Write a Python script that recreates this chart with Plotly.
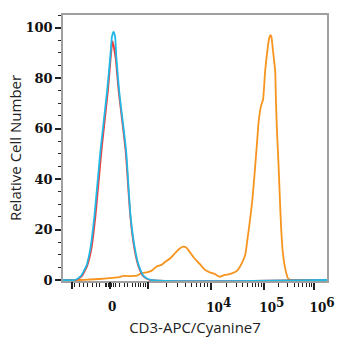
import math
import plotly.graph_objects as go

# x values are display channels (0-1024 biexponential display scale)
blue_x = [0, 46, 69, 91, 106, 122, 145, 171, 183, 190, 196, 202, 207, 218, 245, 262, 279, 294, 313, 340, 1024]
blue_y = [0, 0, 1.5, 5.7, 12.3, 25.4, 51, 74.8, 88.1, 96.5, 98.3, 96.5, 88.1, 74.8, 51, 25.4, 12.3, 5.7, 1.5, 0, 0]

red_x = [0, 50, 73, 94, 110, 126, 149, 174, 185, 192, 204, 216, 243, 261, 277, 292, 311, 336, 1024]
red_y = [0, 0, 1.5, 5.7, 12.3, 25.4, 51, 74.8, 88.1, 94.6, 88.1, 74.8, 51, 25.4, 12.3, 5.7, 1.5, 0, 0]

orange_x = [0, 65, 103, 141, 180, 210, 237, 264, 287, 306, 325, 344, 363, 382, 397, 416, 435, 447,
            466, 478, 493, 512, 531, 550, 569, 588, 608, 627, 650, 676, 695, 707, 714, 734, 746,
            755, 759, 768, 776, 784, 794, 800, 804, 808, 814, 823, 826, 830, 836, 841, 846, 852,
            861, 874, 887, 1024]
orange_y = [0, 0, 0.2, 0.4, 0.7, 1.0, 1.6, 1.5, 1.7, 2.8, 3.0, 3.7, 5.3, 6.0, 7.2, 8.6, 10.7, 12.0,
            13.2, 12.9, 10.9, 8.3, 6.3, 4.1, 3.0, 2.4, 1.3, 2.0, 2.4, 3.7, 7.0, 10.0, 15.0, 31.3, 45.8,
            57.7, 63.0, 68.9, 71.5, 82.7, 92.0, 95.9, 97.0, 96.5, 91.3, 82.7, 70.9, 59.0, 45.8, 32.7, 20.8, 11.6,
            5.0, 0.4, 0, 0]

# axis ticks (display channels)
zero_pos = 183
dec_pos = [329, 573, 779, 974]          # 10^3, 10^4, 10^5, 10^6
neg_dec_pos = 34                         # -10^3
label_pos = [573, 779, 974]
label_exp = ["4", "5", "6"]
near_zero_minor = [46, 65, 80, 96, 115, 130, 141, 164, 170, 176, 190, 196, 202,
                   218, 237, 252, 268, 283, 294, 302, 313, 321]

minor_pos = list(near_zero_minor)
for a, b in zip(dec_pos[:-1], dec_pos[1:]):
    for k in range(2, 10):
        minor_pos.append(a + (b - a) * math.log10(k))

label_text = ["10<sup><span style=\"font-size:12px\">%s</span></sup>" % e for e in label_exp]

tick_font_x = dict(family="DejaVu Serif", size=12, color="#111", weight="bold")

fig = go.Figure()
fig.add_trace(go.Scatter(x=orange_x, y=orange_y, mode="lines",
                         line=dict(color="#f7941d", width=1.8, shape="spline", smoothing=0.5)))
fig.add_trace(go.Scatter(x=red_x, y=red_y, mode="lines",
                         line=dict(color="#ee3b3b", width=1.8, shape="spline", smoothing=0.5)))
fig.add_trace(go.Scatter(x=blue_x, y=blue_y, mode="lines",
                         line=dict(color="#22b8e6", width=1.8, shape="spline", smoothing=0.5)))
# invisible helpers so the extra tick axes are drawn
fig.add_trace(go.Scatter(x=[zero_pos], y=[0], xaxis="x2", mode="markers",
                         marker=dict(opacity=0), hoverinfo="skip"))
fig.add_trace(go.Scatter(x=[zero_pos], y=[0], xaxis="x3", mode="markers",
                         marker=dict(opacity=0), hoverinfo="skip"))

fig.update_layout(
    width=346, height=350,
    margin=dict(l=63, r=15, t=15, b=69),
    paper_bgcolor="white", plot_bgcolor="white",
    showlegend=False,
    xaxis2=dict(
        overlaying="x", matches="x", side="bottom", range=[0, 1024],
        showgrid=False, zeroline=False, showline=False, showticklabels=False,
        tickmode="array", tickvals=[neg_dec_pos, dec_pos[0]],
        ticks="outside", ticklen=7, tickwidth=1.5, tickcolor="#222",
    ),
    xaxis3=dict(
        overlaying="x", matches="x", side="bottom", range=[0, 1024],
        showgrid=False, zeroline=False, showline=False,
        tickmode="array", tickvals=[zero_pos], ticktext=["0"],
        ticks="outside", ticklen=7, tickwidth=1.5, tickcolor="#222",
        ticklabelshift=2, ticklabelstandoff=8,
        tickfont=tick_font_x,
    ),
)

fig.layout.xaxis.update(
    range=[0, 1024], showgrid=False, zeroline=False,
    showline=True, linecolor="#a0a0a0", linewidth=1.5, mirror=True,
    layer="below traces",
    tickmode="array", tickvals=label_pos, ticktext=label_text,
    ticks="outside", ticklen=7, tickwidth=1.5, tickcolor="#222",
    ticklabelshift=8, ticklabelstandoff=8,
    tickfont=tick_font_x,
    minor=dict(tickmode="array", tickvals=minor_pos, ticks="outside", ticklen=4,
               tickwidth=1, tickcolor="#222", showgrid=False),
    title=dict(text="CD3-APC/Cyanine7", font=dict(family="Open Sans", size=15, color="#222"), standoff=8),
)
fig.layout.yaxis.update(
    range=[-0.4, 105], showgrid=False, zeroline=False,
    showline=True, linecolor="#a0a0a0", linewidth=1.5, mirror=True,
    layer="below traces",
    tickmode="linear", tick0=0, dtick=20,
    ticks="outside", ticklen=6, tickwidth=1.5, tickcolor="#222",
    tickfont=dict(family="DejaVu Serif", size=13, color="#111", weight="bold"),
    minor=dict(dtick=5, ticks="outside", ticklen=3, tickwidth=1, tickcolor="#222", showgrid=False),
    title=dict(text="Relative Cell Number", font=dict(family="Open Sans", size=15, color="#222"), standoff=0),
)

fig.write_html("out.html")
